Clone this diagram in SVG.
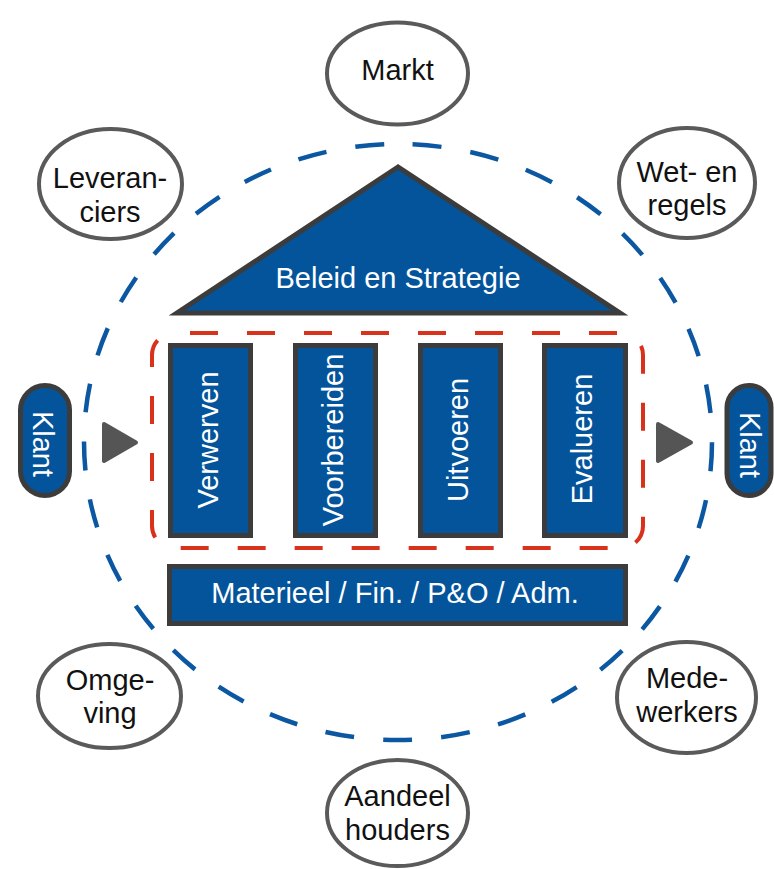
<svg xmlns="http://www.w3.org/2000/svg" width="774" height="869" viewBox="0 0 774 869">
  <style>
    text { font-family: "Liberation Sans", Arial, sans-serif; font-size: 29px; text-anchor: middle; }
    .ell { fill: #ffffff; stroke: #5a5a5a; stroke-width: 4; }
    .ell-t { fill: #111111; }
    .box { fill: #04549c; stroke: #3c3c3c; stroke-width: 5; }
    .box-t { fill: #ffffff; }
    .arrow { fill: #555555; stroke: #555555; stroke-width: 4; stroke-linejoin: round; }
  </style>

  <rect width="774" height="869" fill="#ffffff"/>

  <!-- outer dashed ellipse -->
  <g id="environment-ring">
    <path d="M 398 144 A 314 298 0 0 1 398 740 A 314 298 0 0 1 398 144 Z" fill="none" stroke="#0b57a2" stroke-width="4.5" stroke-dasharray="29 29.27" stroke-dashoffset="43.6"/>
  </g>

  <!-- stakeholders -->
  <g id="markt">
    <ellipse class="ell" cx="397.5" cy="73.5" rx="70.5" ry="51"/>
    <text class="ell-t" x="397.5" y="80">Markt</text>
  </g>
  <g id="leveranciers">
    <ellipse class="ell" cx="110.5" cy="184" rx="71.5" ry="55"/>
    <text class="ell-t" x="110" y="188">Leveran-</text>
    <text class="ell-t" x="110" y="222">ciers</text>
  </g>
  <g id="wet-en-regels">
    <ellipse class="ell" cx="687" cy="183" rx="68" ry="55"/>
    <text class="ell-t" x="687" y="182">Wet- en</text>
    <text class="ell-t" x="687" y="215">regels</text>
  </g>
  <g id="omgeving">
    <ellipse class="ell" cx="109.5" cy="696" rx="71.5" ry="52"/>
    <text class="ell-t" x="110" y="690">Omge-</text>
    <text class="ell-t" x="110" y="723">ving</text>
  </g>
  <g id="medewerkers">
    <ellipse class="ell" cx="686.5" cy="697.5" rx="69.5" ry="55.5"/>
    <text class="ell-t" x="687" y="688">Mede-</text>
    <text class="ell-t" x="687" y="722">werkers</text>
  </g>
  <g id="aandeelhouders">
    <ellipse class="ell" cx="397.5" cy="813" rx="70.5" ry="53"/>
    <text class="ell-t" x="397.5" y="806">Aandeel</text>
    <text class="ell-t" x="397.5" y="840">houders</text>
  </g>

  <!-- roof -->
  <g id="beleid-en-strategie">
    <polygon class="box" stroke-width="4" points="398,167 177,313 620,313"/>
    <text class="box-t" x="398" y="288">Beleid en Strategie</text>
  </g>

  <!-- primary process frame -->
  <g id="primair-proces">
    <rect x="152" y="333" width="491" height="215" rx="22" fill="none" stroke="#d8321c" stroke-width="4" stroke-dasharray="28 29" stroke-dashoffset="41"/>
  </g>

  <g id="verwerven">
    <rect class="box" x="170.5" y="345.5" width="80" height="190"/>
    <text class="box-t" transform="translate(218 440) rotate(-90)">Verwerven</text>
  </g>
  <g id="voorbereiden">
    <rect class="box" x="295.5" y="345.5" width="80" height="190"/>
    <text class="box-t" transform="translate(343 440) rotate(-90)">Voorbereiden</text>
  </g>
  <g id="uitvoeren">
    <rect class="box" x="420.5" y="345.5" width="80" height="190"/>
    <text class="box-t" transform="translate(468 440) rotate(-90)">Uitvoeren</text>
  </g>
  <g id="evalueren">
    <rect class="box" x="544.5" y="345.5" width="81" height="190"/>
    <text class="box-t" transform="translate(592 439) rotate(-90)">Evalueren</text>
  </g>

  <!-- foundation -->
  <g id="ondersteuning">
    <rect class="box" x="169.5" y="566.5" width="456" height="57"/>
    <text class="box-t" x="395" y="603">Materieel / Fin. / P&amp;O / Adm.</text>
  </g>

  <!-- customers -->
  <g id="klant-in">
    <rect class="box" stroke-width="4.5" x="20.5" y="385.5" width="49" height="110" rx="24.5"/>
    <text class="box-t" transform="translate(33 444) rotate(90)">Klant</text>
  </g>
  <g id="klant-uit">
    <rect class="box" stroke-width="4.5" x="727" y="385.5" width="44" height="110" rx="22"/>
    <text class="box-t" transform="translate(740 445) rotate(90)">Klant</text>
  </g>

  <!-- connectors -->
  <g id="connectors">
    <polygon class="arrow" points="104,424 136,442.5 104,461"/>
    <polygon class="arrow" points="658,424 691,442.5 658,461"/>
  </g>
</svg>
